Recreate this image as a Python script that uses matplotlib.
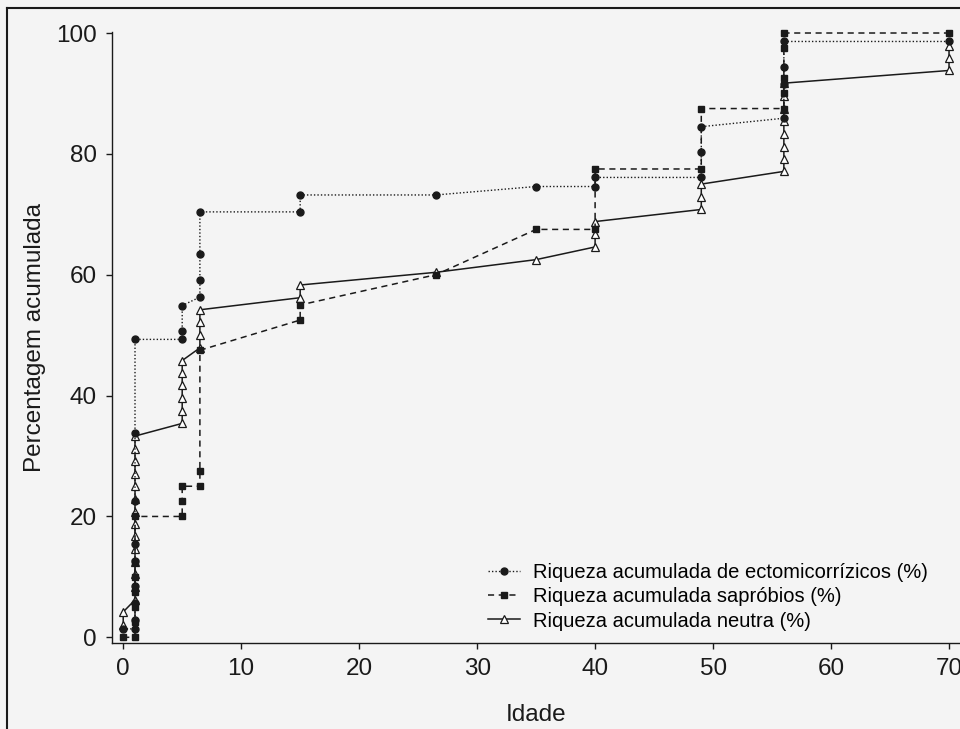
import matplotlib
matplotlib.use('Agg')
import matplotlib.pyplot as plt
from matplotlib.lines import Line2D

plt.rcParams['font.family'] = ['Liberation Sans', 'DejaVu Sans']

# idade (anos) e riqueza acumulada (%)
idade_ecto = [0, 1, 1, 1, 1, 1, 1, 1, 1, 1, 5, 5, 5, 6.5, 6.5, 6.5, 6.5,
              15, 15, 26.5, 35, 40, 40, 49, 49, 49, 56, 56, 56, 56, 70]
ecto = [1.4, 1.4, 2.8, 5.6, 8.5, 12.7, 15.5, 22.5, 33.8, 49.3, 49.3, 50.7, 54.9,
        56.3, 59.2, 63.4, 70.4, 70.4, 73.2, 73.2, 74.6, 74.6, 76.1, 76.1, 80.3,
        84.5, 85.9, 91.5, 94.4, 98.6, 98.6]

idade_sap = [0, 1, 1, 1, 1, 1, 1, 1, 5, 5, 5, 6.5, 6.5, 6.5, 15, 15, 26.5, 35,
             40, 40, 49, 49, 56, 56, 56, 56, 56, 70]
sap = [0, 0, 2.5, 5, 7.5, 10, 12.5, 20, 20, 22.5, 25, 25, 27.5, 47.5, 52.5, 55,
       60, 67.5, 67.5, 77.5, 77.5, 87.5, 87.5, 90, 92.5, 97.5, 100, 100]

idade_neutra = [0, 0, 1, 1, 1, 1, 1, 1, 1, 1, 1, 1, 1, 1, 1, 1, 5, 5, 5, 5, 5, 5,
                6.5, 6.5, 6.5, 6.5, 15, 15, 26.5, 35, 40, 40, 40, 49, 49, 49,
                56, 56, 56, 56, 56, 56, 56, 56, 70, 70, 70]
neutra = [2.1, 4.2, 6.2, 8.3, 10.4, 12.5, 14.6, 16.7, 18.8, 20.8, 22.9, 25.0,
          27.1, 29.2, 31.2, 33.3, 35.4, 37.5, 39.6, 41.7, 43.8, 45.8, 47.9, 50.0,
          52.1, 54.2, 56.2, 58.3, 60.4, 62.5, 64.6, 66.7, 68.8, 70.8, 72.9, 75.0,
          77.1, 79.2, 81.2, 83.3, 85.4, 87.5, 89.6, 91.7, 93.8, 95.8, 97.9]

legendas = ['Riqueza acumulada de ectomicorrízicos (%)',
            'Riqueza acumulada sapróbios (%)',
            'Riqueza acumulada neutra (%)']

bg = '#f4f4f4'
cor = '#1a1a1a'

fig = plt.figure(figsize=(9.6, 7.29), dpi=100, facecolor=bg)
ax = fig.add_axes([112 / 960, 86 / 729, 848 / 960, (643 - 31.5) / 729])
ax.set_facecolor(bg)

l3, = ax.plot(idade_neutra, neutra, color=cor, lw=1.1, ls='-', marker='^', ms=5.5,
              mfc='white', mec=cor, mew=0.9, clip_on=False)
l2, = ax.plot(idade_sap, sap, color=cor, lw=1.1, ls=(0, (4, 3)), marker='s', ms=5,
              mfc=cor, mec=cor, clip_on=False)
l1, = ax.plot(idade_ecto, ecto, color=cor, lw=1.0, ls=(0, (1, 1.5)), marker='o', ms=5,
              mfc=cor, mec=cor, clip_on=False)

ax.set_xlim(-0.95, 70.93)
ax.set_ylim(-0.94, 100.25)
ax.set_xticks([0, 10, 20, 30, 40, 50, 60, 70])
ax.set_yticks([0, 20, 40, 60, 80, 100])
for s in ['top', 'right']:
    ax.spines[s].set_visible(False)
for s in ['left', 'bottom']:
    ax.spines[s].set_linewidth(1.0)
    ax.spines[s].set_color(cor)
ax.tick_params(direction='out', length=4, width=1, labelsize=17.5, pad=7, colors=cor)

ax.set_xlabel('Idade', fontsize=17.5, labelpad=17, color=cor)
ax.set_ylabel('Percentagem acumulada', fontsize=17.5, labelpad=7, color=cor)

fig.legend([l1, l2, l3], legendas, loc='center left',
           bbox_to_anchor=(488 / 960, (729 - 597) / 729), frameon=False,
           fontsize=14.5, handlelength=1.6, handletextpad=0.65,
           labelspacing=0.25, borderpad=0, borderaxespad=0)

# moldura da figura
fig.add_artist(Line2D([7 / 960, 7 / 960], [0, 1 - 8 / 729],
                      transform=fig.transFigure, color=cor, lw=1.5))
fig.add_artist(Line2D([7 / 960, 1], [1 - 8 / 729, 1 - 8 / 729],
                      transform=fig.transFigure, color=cor, lw=1.5))

fig.savefig('out.png', dpi=100, facecolor=bg)
